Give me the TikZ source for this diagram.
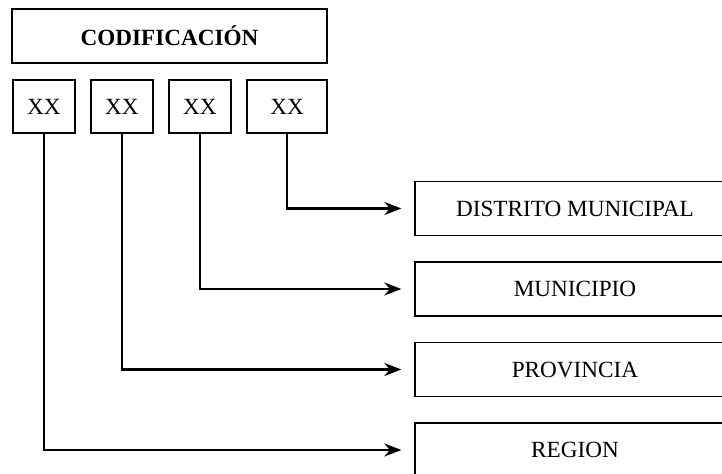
\documentclass[tikz,border=0pt]{standalone}
\usepackage{fontspec}
\setmainfont{Liberation Serif}
\usetikzlibrary{arrows.meta}
\tikzset{
  caja/.style={draw, line width=0.65pt, minimum height=27pt, inner sep=0pt, font=\fontsize{11.6}{13}\selectfont},
  cifra/.style={caja, minimum height=26.5pt, minimum width=31pt},
  nivel/.style={caja, minimum width=160pt},
  conn/.style={line width=1.2pt, -{Stealth[length=8.5pt,width=6.5pt]}, shorten >=6.5pt}
}
\begin{document}
\begin{tikzpicture}[x=0.5pt,y=-0.5pt]
    \useasboundingbox (0,0) rectangle (722,474);
    \node [caja, minimum width=157.5pt] (cod) at (169.5,36) {\textbf{CODIFICACIÓN}};
    \node [cifra] (x1) at (44,106.5) {XX};
    \node [cifra] (x2) at (122,106.5) {XX};
    \node [cifra] (x3) at (200,106.5) {XX};
    \node [cifra, minimum width=40pt] (x4) at (287,106.5) {XX};
    % niveles, el borde derecho queda fuera
    \node [nivel] (dis) at (575,208.5) {DISTRITO MUNICIPAL};
    \node [nivel] (mun) at (575,289) {MUNICIPIO};
    \node [nivel] (pro) at (575,369.5) {PROVINCIA};
    \node [nivel] (reg) at (575,450) {REGION};
    \draw [conn] (x4.south) |- (dis.west);
    \draw [conn] (x3.south) |- (mun.west);
    \draw [conn] (x2.south) |- (pro.west);
    \draw [conn] (x1.south) |- (reg.west);
\end{tikzpicture}
\end{document}
